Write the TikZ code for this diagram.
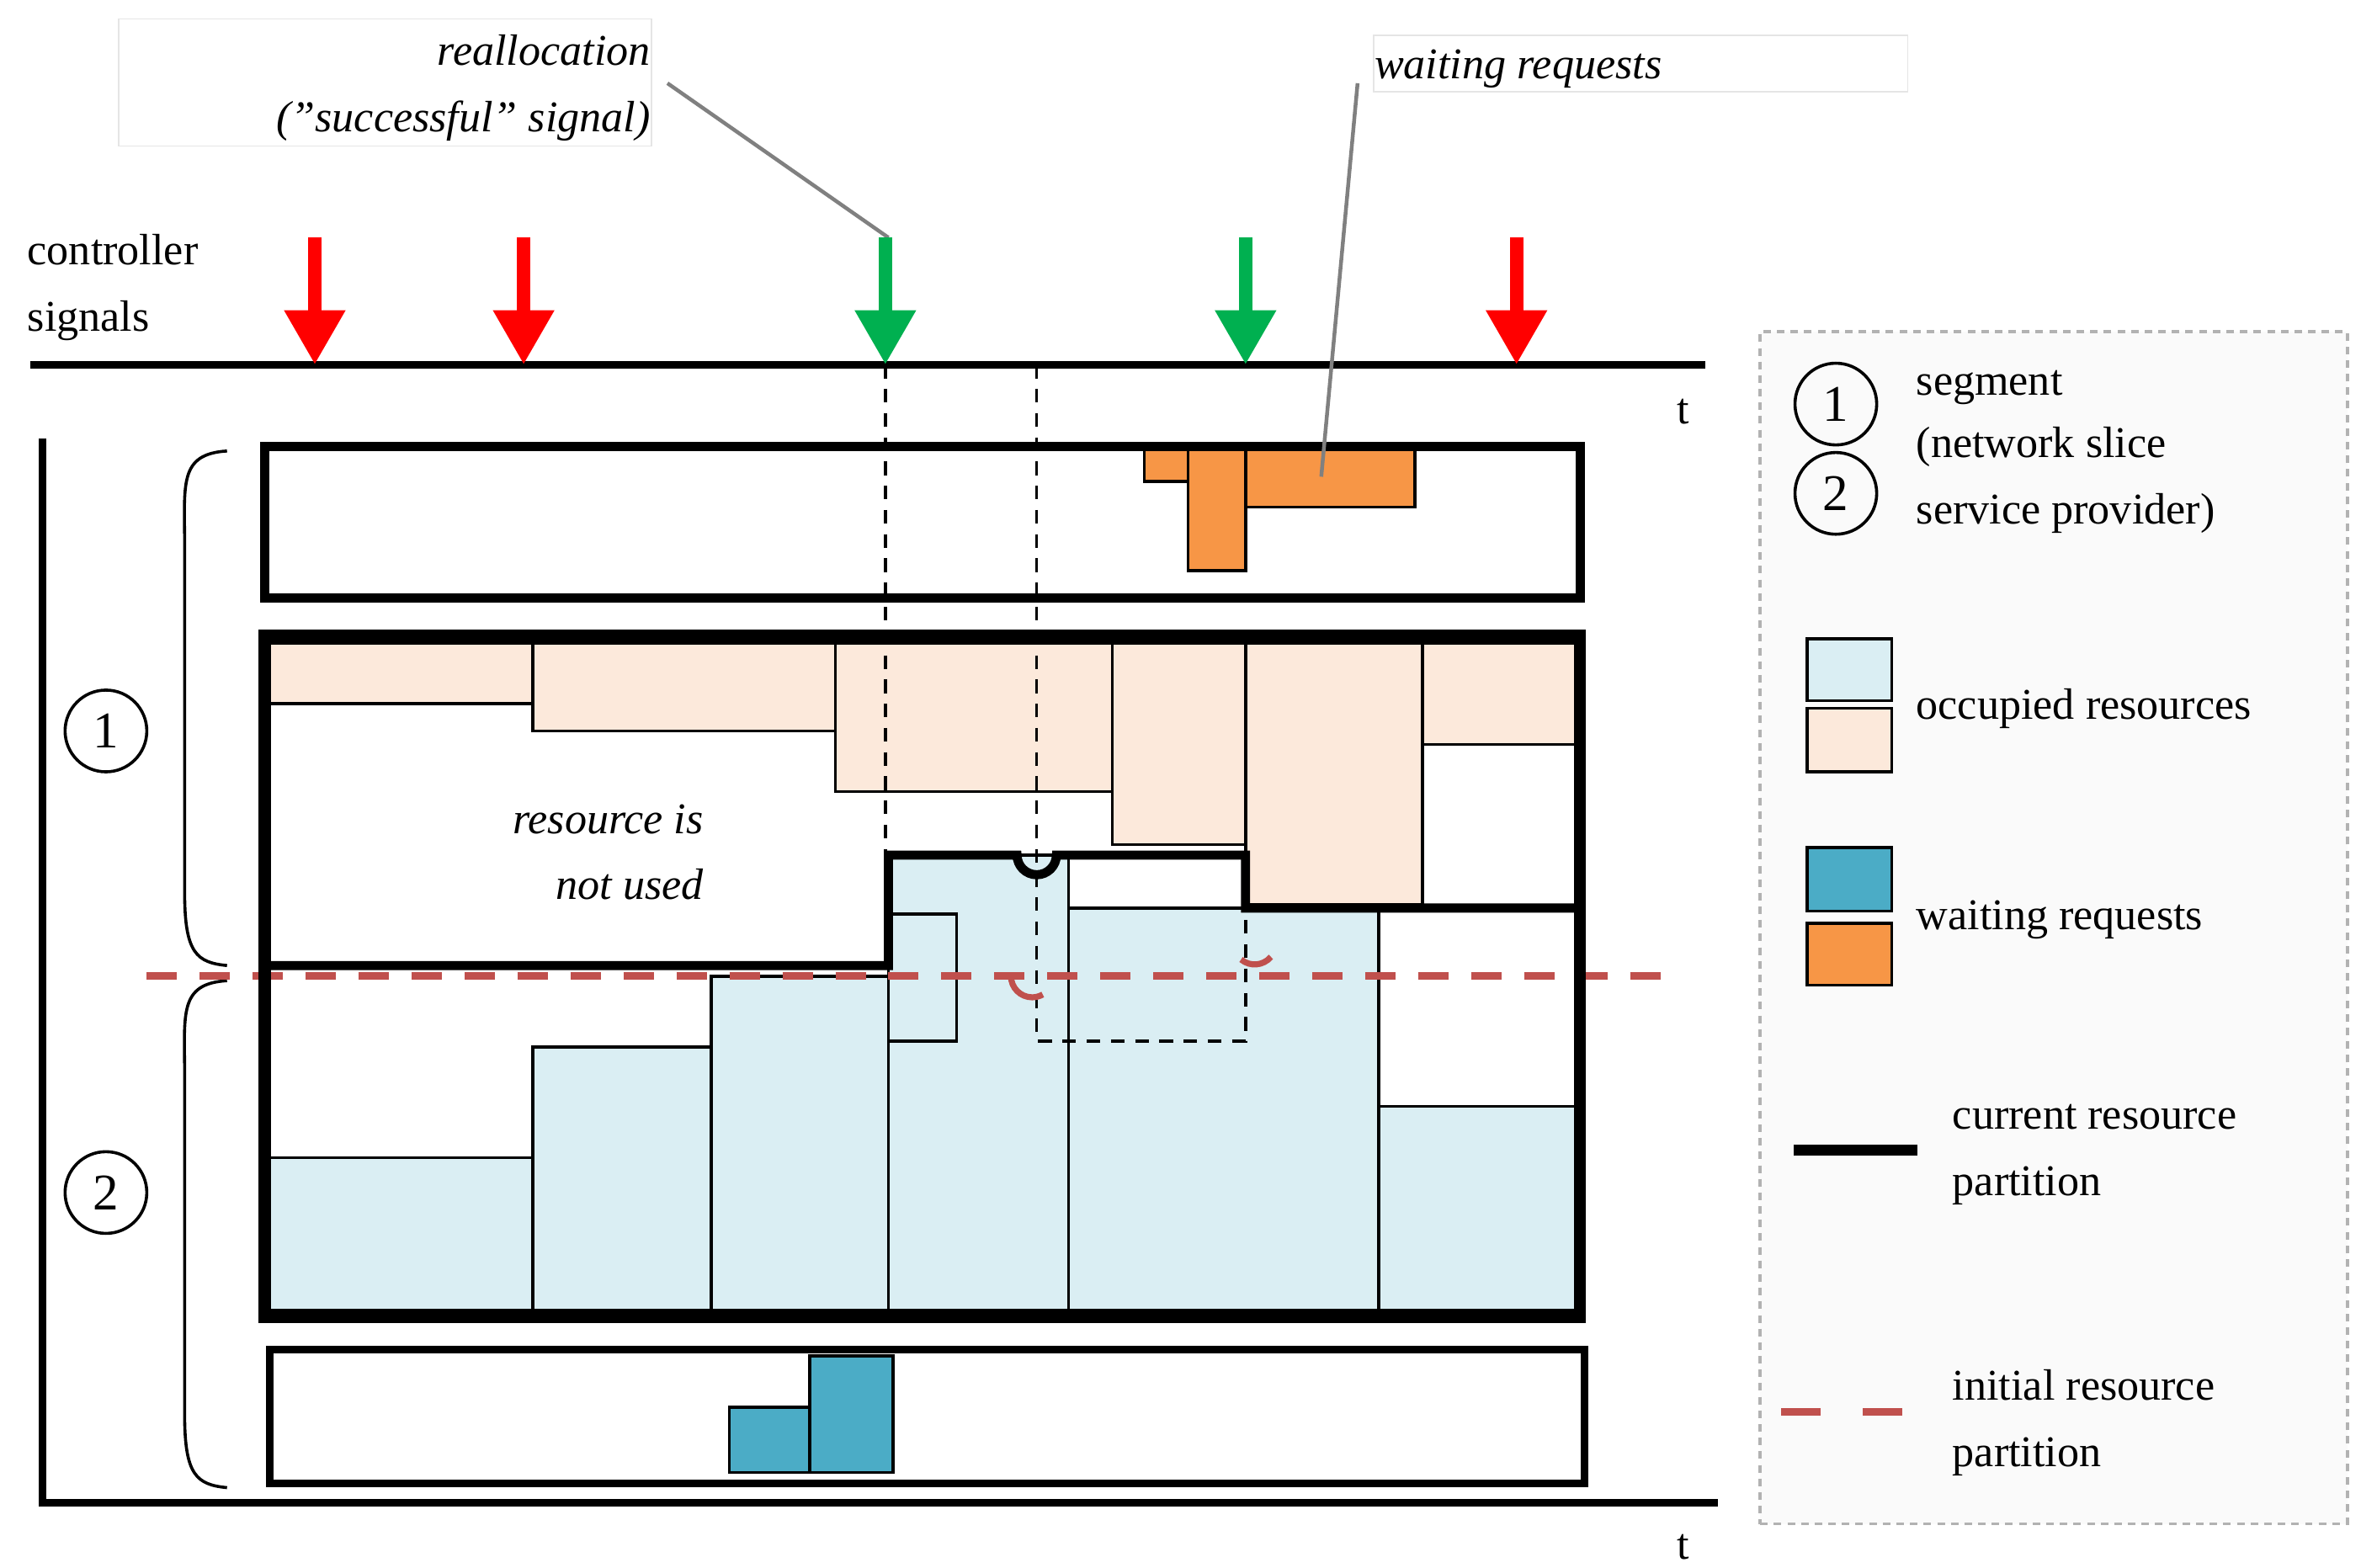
\documentclass[tikz,border=0pt]{standalone}
\usepackage{fontspec}
\setmainfont{Liberation Serif}
\usetikzlibrary{arrows.meta}
\definecolor{peach}{HTML}{FCE9DB}
\definecolor{lblue}{HTML}{DAEEF3}
\definecolor{wblue}{HTML}{4BACC6}
\definecolor{worange}{HTML}{F79646}
\definecolor{dred}{HTML}{C0504D}
\definecolor{sred}{HTML}{FF0000}
\definecolor{sgreen}{HTML}{00B050}
\tikzset{
 txt/.style={font=\fontsize{29}{35}\selectfont, inner sep=0pt},
 itxt/.style={txt, font=\fontsize{29}{35}\selectfont\itshape},
 occ/.style={fill=peach, draw=black, line width=2pt},
 busy/.style={fill=lblue, draw=black, line width=2pt},
 wb/.style={fill=wblue, draw=black, line width=2pt},
 wo/.style={fill=worange, draw=black, line width=2pt},
 sig/.style={-{Triangle[width=38pt,length=36pt]}, line width=9pt},
 part/.style={line width=6pt, line join=miter},
 init/.style={dred, line width=5pt, dash pattern=on 20pt off 15pt},
 guide/.style={line width=2pt, dash pattern=on 9pt off 7pt},
 circ/.style={circle, draw, line width=2pt, minimum size=54pt, inner sep=0pt, font=\fontsize{34}{34}\selectfont},
 callout/.style={draw=black!10, line width=1pt, fill=white},
}
\begin{document}
\begin{tikzpicture}[x=1pt,y=-1pt]
\useasboundingbox (0,0) rectangle (1560,1036);
% callouts
\node[callout, minimum width=352pt, minimum height=84pt, anchor=north west] (cb1) at (78,12) {};
\node[itxt, anchor=base east] (re1) at (430,43) {reallocation};
\node[itxt, anchor=base east] (re2) at (430,87) {("successful" signal)};
\node[callout, minimum width=353pt, minimum height=37pt, anchor=north west] (cb2) at (907,23) {};
\node[itxt, anchor=base west] (wr) at (908,52) {waiting requests};
\coordinate (c1a) at (441,55); \coordinate (c1b) at (587,157);
\coordinate (c2a) at (897,55); \coordinate (c2b) at (873,315);
\draw[gray, line width=2.5pt] (c1a) -- (c1b);
% controller
\node[txt, anchor=base west] (cs1) at (18,175) {controller};
\node[txt, anchor=base west] (cs2) at (18,219) {signals};
\coordinate (ax1) at (20,241); \coordinate (ax2) at (1127,241);
\draw[line width=5pt] (ax1) -- (ax2);
\node[txt] (t1) at (1112,272) {t};
\foreach \x/\c in {208/sred,346/sred,585/sgreen,823/sgreen,1002/sred}
  \draw[sig, \c] (\x,157) -- (\x,241);
% left axis
\coordinate (la1) at (28,290); \coordinate (la2) at (28,993); \coordinate (la3) at (1135,993);
\draw[line width=5pt] (la1) -- (la2) -- (la3);
\node[txt] (t2) at (1112,1022) {t};
% braces
\draw[line width=2pt] (150,298) .. controls (118,300) and (122,320) .. (122,360) -- (122,590) .. controls (122,630) and (130,636) .. (150,638);
\draw[line width=2pt] (150,648) .. controls (118,650) and (122,670) .. (122,710) -- (122,935) .. controls (122,975) and (130,981) .. (150,983);
\node[circ] (s1) at (70,483) {1};
\node[circ] (s2) at (70,788) {2};
% top box
\draw[wo] (756,296) rectangle (785,318);
\draw[wo] (785,296) rectangle (823,377);
\draw[wo] (823,296) rectangle (935,335);
\draw[line width=6pt] (175,295) rectangle (1044,395);
% main box fills
\draw[occ] (178,425) rectangle (352,465);
\draw[occ] (352,425) rectangle (552,483);
\draw[occ] (552,425) rectangle (735,523);
\draw[occ] (735,425) rectangle (823,558);
\draw[occ] (823,425) rectangle (940,598);
\draw[occ] (940,425) rectangle (1041,492);
\draw[busy] (178,765) rectangle (352,866);
\draw[busy] (352,692) rectangle (470,866);
\draw[busy] (470,645) rectangle (587,866);
\draw[busy] (587,565) rectangle (706,866);
\draw[busy] (706,600) rectangle (911,866);
\draw[busy] (911,731) rectangle (1041,866);
\draw[line width=2pt] (587,604) rectangle (632,688);
% guides
\draw[guide] (585,241) -- (585,565);
\draw[guide] (685,241) -- (685,688) -- (823,688) -- (823,600);
% initial partition
\draw[init] (97,645) -- (1110,645);
\draw[dred, line width=4pt] (668,645) arc (180:60:14);
\draw[dred, line width=4pt] (820,634) arc (130:40:14);
% current partition
\draw[part] (178,638) -- (587,638) -- (587,565) -- (672,565) arc (180:0:13) -- (823,565) -- (823,600) -- (1041,600);
\draw[line width=8pt] (175,420) rectangle (1044,870);
\node[itxt, anchor=base east] (nu1) at (465,551) {resource is};
\node[itxt, anchor=base east] (nu2) at (465,594) {not used};
% bottom box
\draw[wb] (482,930) rectangle (535,973);
\draw[wb] (535,896) rectangle (590,973);
\draw[line width=5pt] (178,892) rectangle (1047,980);
\draw[gray, line width=2.5pt] (c2a) -- (c2b);
% legend
\node[draw=black!30, fill=black!2, dash pattern=on 5pt off 4pt, line width=2pt, minimum width=388pt, minimum height=788pt, anchor=north west] (leg) at (1162,218) {};
\node[circ] (l1) at (1213,267) {1};
\node[circ] (l2) at (1213,326) {2};
\node[txt, anchor=base west] (lt1) at (1266,261) {segment};
\node[txt, anchor=base west] (lt2) at (1266,302) {(network slice};
\node[txt, anchor=base west] (lt3) at (1266,346) {service provider)};
\draw[busy] (1194,422) rectangle (1250,463);
\draw[occ] (1194,468) rectangle (1250,510);
\node[txt, anchor=base west] (lo) at (1266,475) {occupied resources};
\draw[wb] (1194,560) rectangle (1250,602);
\draw[wo] (1194,610) rectangle (1250,651);
\node[txt, anchor=base west] (lw) at (1266,614) {waiting requests};
\coordinate (lc1) at (1185,760); \coordinate (lc2) at (1267,760);
\draw[line width=7pt] (lc1) -- (lc2);
\node[txt, anchor=base west] (lc) at (1290,746) {current resource};
\node[txt, anchor=base west] (lcp) at (1290,790) {partition};
\coordinate (li1) at (1177,933); \coordinate (li2) at (1257,933);
\draw[init, dash pattern=on 26pt off 28pt] (li1) -- (li2);
\node[txt, anchor=base west] (li) at (1290,925) {initial resource};
\node[txt, anchor=base west] (lip) at (1290,969) {partition};
\end{tikzpicture}
\end{document}
